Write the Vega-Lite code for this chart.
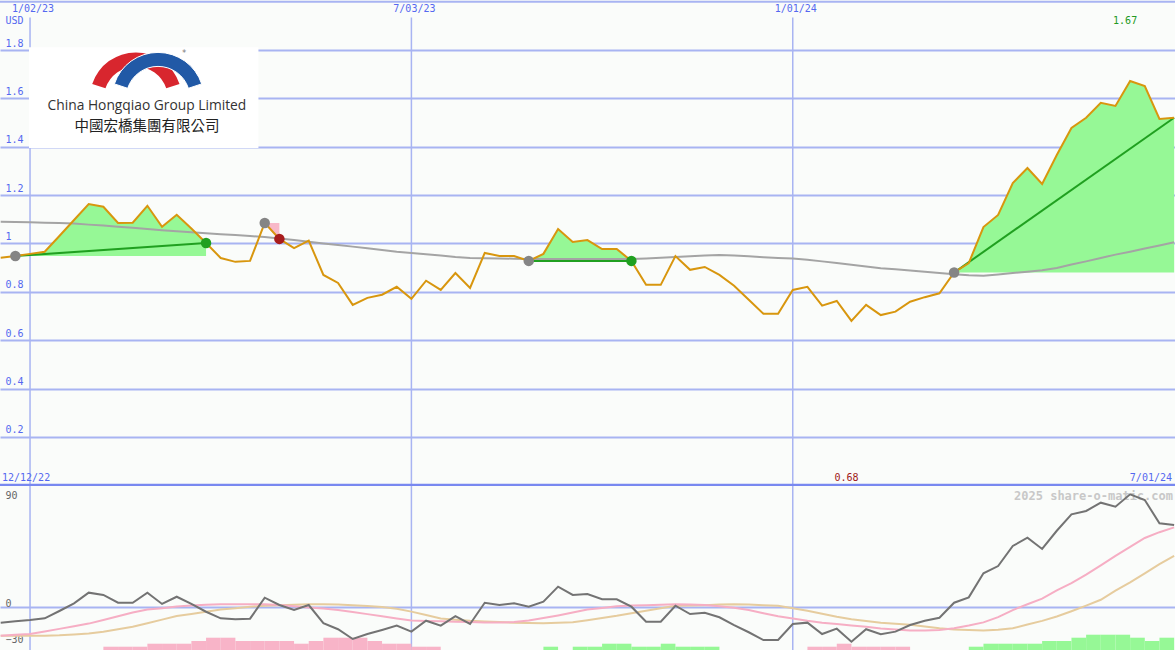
{
  "$schema": "https://vega.github.io/schema/vega-lite/v6.json",
  "background": "#fafcfa",
  "padding": 0,
  "spacing": 0,
  "bounds": "flush",
  "config": {"view": {"stroke": null}, "font": "DejaVu Sans Mono"},
  "datasets": {
    "gridDates": [{"date": "2023-01-02"}, {"date": "2023-07-03"}, {"date": "2024-01-01"}],
    "trades": [
      {"trade": 1, "side": "long", "event": "entry", "date": "2022-12-26", "price": 0.948},
      {"trade": 1, "side": "long", "event": "exit", "date": "2023-03-27", "price": 1.002},
      {"trade": 2, "side": "short", "event": "entry", "date": "2023-04-24", "price": 1.085},
      {"trade": 2, "side": "short", "event": "exit", "date": "2023-05-01", "price": 1.019},
      {"trade": 3, "side": "long", "event": "entry", "date": "2023-08-28", "price": 0.928},
      {"trade": 3, "side": "long", "event": "exit", "date": "2023-10-16", "price": 0.928},
      {"trade": 4, "side": "long", "event": "entry", "date": "2024-03-18", "price": 0.88},
      {"trade": 4, "side": "long", "event": "open", "date": "2024-07-01", "price": 1.52}
    ],
    "prices": [
      {"date": "2022-12-19", "price": 0.941, "ma": 1.090, "osc": -12.8, "sig1": -23.7, "sig2": -23.7, "hist": 0},
      {"date": "2022-12-26", "price": 0.948, "ma": 1.089, "osc": -11.7, "sig1": -22.9, "sig2": -23.7, "hist": 0, "trade": 1},
      {"date": "2023-01-02", "price": 0.957, "ma": 1.088, "osc": -10.6, "sig1": -22.3, "sig2": -23.7, "hist": 0, "trade": 1},
      {"date": "2023-01-09", "price": 0.966, "ma": 1.086, "osc": -9.2, "sig1": -20.1, "sig2": -23.7, "hist": 0, "trade": 1},
      {"date": "2023-01-16", "price": 1.031, "ma": 1.085, "osc": -3.1, "sig1": -18.0, "sig2": -23.3, "hist": 0, "trade": 1},
      {"date": "2023-01-23", "price": 1.097, "ma": 1.083, "osc": 3.3, "sig1": -15.8, "sig2": -22.6, "hist": 0, "trade": 1},
      {"date": "2023-01-30", "price": 1.163, "ma": 1.078, "osc": 12.2, "sig1": -13.6, "sig2": -21.8, "hist": 0, "trade": 1},
      {"date": "2023-02-06", "price": 1.152, "ma": 1.074, "osc": 10.3, "sig1": -10.6, "sig2": -20.3, "hist": -2.75, "trade": 1},
      {"date": "2023-02-13", "price": 1.085, "ma": 1.069, "osc": 3.8, "sig1": -7.4, "sig2": -18.3, "hist": -2.75, "trade": 1},
      {"date": "2023-02-20", "price": 1.086, "ma": 1.065, "osc": 3.8, "sig1": -4.4, "sig2": -16.3, "hist": -2.75, "trade": 1},
      {"date": "2023-02-27", "price": 1.156, "ma": 1.060, "osc": 12.2, "sig1": -1.9, "sig2": -13.3, "hist": -5.25, "trade": 1},
      {"date": "2023-03-06", "price": 1.069, "ma": 1.055, "osc": 2.8, "sig1": -0.7, "sig2": -10.3, "hist": -5.25, "trade": 1},
      {"date": "2023-03-13", "price": 1.119, "ma": 1.051, "osc": 8.8, "sig1": 0.6, "sig2": -7.3, "hist": -5.25, "trade": 1},
      {"date": "2023-03-20", "price": 1.062, "ma": 1.046, "osc": 2.8, "sig1": 1.5, "sig2": -5.5, "hist": -7.5, "trade": 1},
      {"date": "2023-03-27", "price": 1.002, "ma": 1.042, "osc": -3.7, "sig1": 2.2, "sig2": -3.7, "hist": -10.25, "trade": 1},
      {"date": "2023-04-03", "price": 0.940, "ma": 1.038, "osc": -9.2, "sig1": 2.5, "sig2": -1.9, "hist": -10.25},
      {"date": "2023-04-10", "price": 0.924, "ma": 1.035, "osc": -10.0, "sig1": 2.5, "sig2": -0.8, "hist": -7.5},
      {"date": "2023-04-17", "price": 0.928, "ma": 1.031, "osc": -9.5, "sig1": 2.5, "sig2": 0.5, "hist": -7.5},
      {"date": "2023-04-24", "price": 1.085, "ma": 1.027, "osc": 8.0, "sig1": 2.5, "sig2": 1.2, "hist": -7.5, "trade": 2},
      {"date": "2023-05-01", "price": 1.019, "ma": 1.021, "osc": 1.9, "sig1": 2.0, "sig2": 1.8, "hist": -7.5, "trade": 2},
      {"date": "2023-05-08", "price": 0.981, "ma": 1.014, "osc": -2.3, "sig1": 0.9, "sig2": 2.2, "hist": -5.25},
      {"date": "2023-05-15", "price": 1.012, "ma": 1.007, "osc": 1.9, "sig1": -0.1, "sig2": 2.6, "hist": -7.5},
      {"date": "2023-05-22", "price": 0.870, "ma": 1.000, "osc": -13.3, "sig1": -1.0, "sig2": 2.6, "hist": -10.25},
      {"date": "2023-05-29", "price": 0.837, "ma": 0.994, "osc": -18.3, "sig1": -2.3, "sig2": 2.3, "hist": -10.25},
      {"date": "2023-06-05", "price": 0.746, "ma": 0.987, "osc": -26.4, "sig1": -3.9, "sig2": 1.8, "hist": -10.25},
      {"date": "2023-06-12", "price": 0.775, "ma": 0.980, "osc": -22.3, "sig1": -5.7, "sig2": 1.0, "hist": -7.5},
      {"date": "2023-06-19", "price": 0.788, "ma": 0.973, "osc": -18.9, "sig1": -7.5, "sig2": 0.3, "hist": -5.25},
      {"date": "2023-06-26", "price": 0.821, "ma": 0.966, "osc": -15.3, "sig1": -9.3, "sig2": -1.3, "hist": -5.25},
      {"date": "2023-07-03", "price": 0.771, "ma": 0.961, "osc": -20.3, "sig1": -11.1, "sig2": -3.6, "hist": -2.75},
      {"date": "2023-07-10", "price": 0.846, "ma": 0.955, "osc": -11.2, "sig1": -11.4, "sig2": -6.4, "hist": -2.75},
      {"date": "2023-07-17", "price": 0.808, "ma": 0.950, "osc": -15.3, "sig1": -11.7, "sig2": -9.3, "hist": 0},
      {"date": "2023-07-24", "price": 0.878, "ma": 0.944, "osc": -7.3, "sig1": -12.0, "sig2": -10.3, "hist": 0},
      {"date": "2023-07-31", "price": 0.816, "ma": 0.940, "osc": -13.9, "sig1": -12.3, "sig2": -11.3, "hist": 0},
      {"date": "2023-08-07", "price": 0.961, "ma": 0.939, "osc": 3.8, "sig1": -12.7, "sig2": -11.8, "hist": 0},
      {"date": "2023-08-14", "price": 0.948, "ma": 0.938, "osc": 1.9, "sig1": -12.6, "sig2": -12.3, "hist": 0},
      {"date": "2023-08-21", "price": 0.948, "ma": 0.937, "osc": 3.3, "sig1": -12.3, "sig2": -12.8, "hist": 0},
      {"date": "2023-08-28", "price": 0.928, "ma": 0.936, "osc": 0.5, "sig1": -11.1, "sig2": -13.1, "hist": 0, "trade": 3},
      {"date": "2023-09-04", "price": 0.957, "ma": 0.936, "osc": 4.7, "sig1": -9.0, "sig2": -13.3, "hist": 2.75, "trade": 3},
      {"date": "2023-09-11", "price": 1.060, "ma": 0.936, "osc": 17.2, "sig1": -6.8, "sig2": -12.9, "hist": 0, "trade": 3},
      {"date": "2023-09-18", "price": 1.006, "ma": 0.936, "osc": 10.3, "sig1": -4.4, "sig2": -12.5, "hist": 2.75, "trade": 3},
      {"date": "2023-09-25", "price": 1.014, "ma": 0.936, "osc": 11.1, "sig1": -1.9, "sig2": -10.8, "hist": 2.75, "trade": 3},
      {"date": "2023-10-02", "price": 0.977, "ma": 0.936, "osc": 6.7, "sig1": -0.6, "sig2": -8.9, "hist": 5.25, "trade": 3},
      {"date": "2023-10-09", "price": 0.977, "ma": 0.936, "osc": 6.7, "sig1": 0.8, "sig2": -7.1, "hist": 5.25, "trade": 3},
      {"date": "2023-10-16", "price": 0.928, "ma": 0.936, "osc": 0.5, "sig1": 1.5, "sig2": -4.9, "hist": 2.75, "trade": 3},
      {"date": "2023-10-23", "price": 0.829, "ma": 0.938, "osc": -12.0, "sig1": 1.8, "sig2": -2.9, "hist": 2.75},
      {"date": "2023-10-30", "price": 0.829, "ma": 0.941, "osc": -12.0, "sig1": 2.1, "sig2": -0.8, "hist": 5.25},
      {"date": "2023-11-06", "price": 0.948, "ma": 0.944, "osc": 1.3, "sig1": 2.6, "sig2": 1.2, "hist": 2.75},
      {"date": "2023-11-13", "price": 0.891, "ma": 0.947, "osc": -5.6, "sig1": 2.4, "sig2": 1.5, "hist": 2.75},
      {"date": "2023-11-20", "price": 0.903, "ma": 0.950, "osc": -4.5, "sig1": 2.0, "sig2": 1.8, "hist": 2.75},
      {"date": "2023-11-27", "price": 0.870, "ma": 0.952, "osc": -8.3, "sig1": 0.8, "sig2": 2.3, "hist": 0},
      {"date": "2023-12-04", "price": 0.825, "ma": 0.950, "osc": -14.8, "sig1": -0.3, "sig2": 2.6, "hist": 0},
      {"date": "2023-12-11", "price": 0.767, "ma": 0.947, "osc": -20.8, "sig1": -2.3, "sig2": 2.4, "hist": 0},
      {"date": "2023-12-18", "price": 0.709, "ma": 0.943, "osc": -27.3, "sig1": -4.9, "sig2": 1.8, "hist": 0},
      {"date": "2023-12-25", "price": 0.709, "ma": 0.940, "osc": -27.3, "sig1": -7.5, "sig2": 1.2, "hist": 0},
      {"date": "2024-01-01", "price": 0.808, "ma": 0.938, "osc": -13.9, "sig1": -9.4, "sig2": -0.8, "hist": 0},
      {"date": "2024-01-08", "price": 0.821, "ma": 0.933, "osc": -12.8, "sig1": -11.3, "sig2": -2.9, "hist": -2.75},
      {"date": "2024-01-15", "price": 0.743, "ma": 0.926, "osc": -22.3, "sig1": -12.8, "sig2": -5.4, "hist": -2.75},
      {"date": "2024-01-22", "price": 0.762, "ma": 0.919, "osc": -17.8, "sig1": -13.9, "sig2": -7.8, "hist": -5.25},
      {"date": "2024-01-29", "price": 0.680, "ma": 0.912, "osc": -28.7, "sig1": -15.1, "sig2": -9.9, "hist": -2.75},
      {"date": "2024-02-05", "price": 0.746, "ma": 0.905, "osc": -18.3, "sig1": -16.3, "sig2": -11.4, "hist": -2.75},
      {"date": "2024-02-12", "price": 0.704, "ma": 0.898, "osc": -22.4, "sig1": -17.6, "sig2": -12.8, "hist": -2.75},
      {"date": "2024-02-19", "price": 0.718, "ma": 0.893, "osc": -20.3, "sig1": -18.5, "sig2": -13.8, "hist": -2.75},
      {"date": "2024-02-26", "price": 0.759, "ma": 0.888, "osc": -14.8, "sig1": -19.3, "sig2": -14.6, "hist": 0},
      {"date": "2024-03-04", "price": 0.778, "ma": 0.883, "osc": -11.2, "sig1": -19.3, "sig2": -16.0, "hist": 0},
      {"date": "2024-03-11", "price": 0.794, "ma": 0.878, "osc": -8.7, "sig1": -18.9, "sig2": -17.5, "hist": 0},
      {"date": "2024-03-18", "price": 0.880, "ma": 0.873, "osc": 3.8, "sig1": -17.5, "sig2": -18.6, "hist": 0, "trade": 4},
      {"date": "2024-03-25", "price": 0.919, "ma": 0.869, "osc": 8.3, "sig1": -15.2, "sig2": -19.0, "hist": 2.75, "trade": 4},
      {"date": "2024-04-01", "price": 1.068, "ma": 0.867, "osc": 28.3, "sig1": -12.6, "sig2": -19.4, "hist": 5.25, "trade": 4},
      {"date": "2024-04-08", "price": 1.118, "ma": 0.872, "osc": 34.4, "sig1": -8.2, "sig2": -18.7, "hist": 5.25, "trade": 4},
      {"date": "2024-04-15", "price": 1.250, "ma": 0.878, "osc": 51.1, "sig1": -2.3, "sig2": -17.5, "hist": 5.25, "trade": 4},
      {"date": "2024-04-22", "price": 1.312, "ma": 0.883, "osc": 58.0, "sig1": 2.5, "sig2": -14.3, "hist": 5.25, "trade": 4},
      {"date": "2024-04-29", "price": 1.246, "ma": 0.889, "osc": 48.6, "sig1": 7.2, "sig2": -11.3, "hist": 7.5, "trade": 4},
      {"date": "2024-05-06", "price": 1.366, "ma": 0.899, "osc": 63.8, "sig1": 14.1, "sig2": -7.7, "hist": 7.5, "trade": 4},
      {"date": "2024-05-13", "price": 1.478, "ma": 0.913, "osc": 77.5, "sig1": 20.1, "sig2": -3.3, "hist": 10.25, "trade": 4},
      {"date": "2024-05-20", "price": 1.520, "ma": 0.926, "osc": 80.3, "sig1": 27.2, "sig2": 1.4, "hist": 12.75, "trade": 4},
      {"date": "2024-05-27", "price": 1.582, "ma": 0.940, "osc": 87.2, "sig1": 35.0, "sig2": 6.3, "hist": 12.75, "trade": 4},
      {"date": "2024-06-03", "price": 1.569, "ma": 0.954, "osc": 83.8, "sig1": 42.9, "sig2": 13.8, "hist": 12.75, "trade": 4},
      {"date": "2024-06-10", "price": 1.672, "ma": 0.966, "osc": 94.2, "sig1": 50.4, "sig2": 20.8, "hist": 10.25, "trade": 4},
      {"date": "2024-06-17", "price": 1.651, "ma": 0.979, "osc": 89.4, "sig1": 57.8, "sig2": 28.3, "hist": 7.5, "trade": 4},
      {"date": "2024-06-24", "price": 1.515, "ma": 0.992, "osc": 70.0, "sig1": 62.6, "sig2": 36.0, "hist": 10.25, "trade": 4},
      {"date": "2024-07-01", "price": 1.520, "ma": 1.005, "osc": 68.5, "sig1": 66.6, "sig2": 42.9, "hist": 0, "trade": 4}
    ]
  },
  "vconcat": [
    {
      "width": 1175,
      "height": 486,
      "layer": [
        {
          "data": {"name": "gridDates"},
          "mark": {"type": "rule", "color": "#a8b4f2", "strokeWidth": 1.5, "clip": true},
          "encoding": {
            "x": {"field": "date", "type": "temporal", "axis": null,
              "scale": {"type": "utc", "domain": [{"year": 2022, "month": 12, "date": 18, "hours": 16, "utc": true}, {"year": 2024, "month": 7, "date": 1, "hours": 10, "utc": true}]}},
            "y": {"datum": -0.003, "type": "quantitative", "scale": {"domain": [-0.003, 2.007], "nice": false, "zero": false}},
            "y2": {"datum": 1.935}
          }
        },
        {
          "data": {"values": [{"level": 2.0}]},
          "mark": {"type": "rule", "color": "#a8b4f2", "strokeWidth": 2, "clip": true},
          "encoding": {"y": {"field": "level", "type": "quantitative"}}
        },
        {
          "data": {"values": [{"level": 0}]},
          "mark": {"type": "rule", "color": "#7888f0", "strokeWidth": 3, "clip": true},
          "encoding": {"y": {"field": "level", "type": "quantitative"}}
        },
        {
          "data": {"name": "gridDates"},
          "mark": {"type": "text", "color": "#5468f0", "fontSize": 10, "baseline": "middle", "dx": 3},
          "encoding": {
            "x": {"field": "date", "type": "temporal"},
            "y": {"datum": 1.97, "type": "quantitative"},
            "text": {"field": "date", "timeUnit": "utcyearmonthdate", "type": "temporal", "format": "%-m/%d/%y"}
          }
        },
        {
          "data": {"values": [{"item": "logo"}]},
          "mark": {"type": "rect", "color": "#ffffff"},
          "encoding": {
            "x": {"datum": {"year": 2023, "month": 1, "date": 1, "hours": 12, "utc": true}, "type": "temporal"},
            "x2": {"datum": {"year": 2023, "month": 4, "date": 21, "utc": true}},
            "y": {"datum": 1.395, "type": "quantitative"},
            "y2": {"datum": 1.812}
          }
        },
        {
          "data": {"values": [{"item": "logo"}]},
          "mark": {"type": "arc", "theta": -1.25, "theta2": 1.25, "radius": 46, "radius2": 32, "color": "#d8262e"},
          "encoding": {
            "x": {"datum": {"year": 2023, "month": 2, "date": 21, "hours": 12, "utc": true}, "type": "temporal"},
            "y": {"datum": 1.6, "type": "quantitative"}
          }
        },
        {
          "data": {"values": [{"item": "logo"}]},
          "mark": {"type": "arc", "theta": -1.25, "theta2": 1.25, "radius": 46, "radius2": 32, "color": "#2159a6", "stroke": "#ffffff", "strokeWidth": 1},
          "encoding": {
            "x": {"datum": {"year": 2023, "month": 3, "date": 4, "hours": 2, "utc": true}, "type": "temporal"},
            "y": {"datum": 1.6, "type": "quantitative"}
          }
        },
        {
          "data": {"values": [{"item": "logo"}]},
          "mark": {"type": "text", "color": "#777777", "fontSize": 8, "baseline": "middle"},
          "encoding": {
            "x": {"datum": {"year": 2023, "month": 3, "date": 16, "hours": 12, "utc": true}, "type": "temporal"},
            "y": {"datum": 1.785, "type": "quantitative"},
            "text": {"value": "*"}
          }
        },
        {
          "data": {"values": [{"item": "logo"}]},
          "mark": {"type": "text", "color": "#333333", "font": "Open Sans", "fontSize": 13.8, "baseline": "middle", "align": "center"},
          "encoding": {
            "x": {"datum": {"year": 2023, "month": 2, "date": 26, "hours": 19, "utc": true}, "type": "temporal"},
            "y": {"datum": 1.57, "type": "quantitative"},
            "text": {"value": "China Hongqiao Group Limited"}
          }
        },
        {
          "data": {"values": [{"item": "logo"}]},
          "mark": {"type": "text", "color": "#222222", "font": "Noto Sans CJK TC", "fontSize": 14.5, "baseline": "middle", "align": "center"},
          "encoding": {
            "x": {"datum": {"year": 2023, "month": 2, "date": 26, "hours": 19, "utc": true}, "type": "temporal"},
            "y": {"datum": 1.48, "type": "quantitative"},
            "text": {"value": "中國宏橋集團有限公司"}
          }
        },
        {
          "data": {"name": "prices"},
          "transform": [
            {"filter": "isValid(datum.trade)"},
            {"window": [{"op": "first_value", "field": "price", "as": "base"}], "groupby": ["trade"], "sort": [{"field": "date"}], "frame": [null, null]},
            {"lookup": "trade", "from": {"data": {"values": [{"trade": 1, "side": "long"}, {"trade": 2, "side": "short"}, {"trade": 3, "side": "long"}, {"trade": 4, "side": "long"}]}, "key": "trade", "fields": ["side"]}}
          ],
          "mark": {"type": "area", "opacity": 1, "clip": true},
          "encoding": {
            "x": {"field": "date", "type": "temporal"},
            "y": {"field": "price", "type": "quantitative"},
            "y2": {"field": "base"},
            "detail": {"field": "trade", "type": "nominal"},
            "color": {"condition": {"test": "datum.side == 'short'", "value": "#f8b8c8"}, "value": "#96f896"}
          }
        },
        {
          "data": {"name": "prices"},
          "mark": {"type": "line", "color": "#a4a4a4", "strokeWidth": 2, "clip": true},
          "encoding": {
            "x": {"field": "date", "type": "temporal"},
            "y": {"field": "ma", "type": "quantitative"}
          }
        },
        {
          "data": {"name": "trades"},
          "mark": {"type": "line", "strokeWidth": 2, "clip": true},
          "encoding": {
            "x": {"field": "date", "type": "temporal"},
            "y": {"field": "price", "type": "quantitative"},
            "detail": {"field": "trade", "type": "nominal"},
            "color": {"condition": {"test": "datum.side == 'short'", "value": "#f8b8c8"}, "value": "#20a020"}
          }
        },
        {
          "data": {"name": "prices"},
          "mark": {"type": "line", "color": "#d8960e", "strokeWidth": 2, "clip": true},
          "encoding": {
            "x": {"field": "date", "type": "temporal"},
            "y": {
              "field": "price", "type": "quantitative",
              "axis": {
                "values": [0.2, 0.4, 0.6, 0.8, 1, 1.2, 1.4, 1.6, 1.8],
                "format": ".1~f",
                "grid": true, "gridColor": "#a8b4f2", "gridWidth": 2,
                "domain": false, "ticks": false, "tickSize": 0,
                "labelAlign": "left", "labelBaseline": "bottom", "labelPadding": -5, "labelOffset": -2,
                "labelColor": "#5468f0", "labelFont": "DejaVu Sans Mono", "labelFontSize": 10, "labelOverlap": false,
                "title": "USD", "titleAngle": 0, "titleAlign": "left", "titleBaseline": "bottom",
                "titleX": 5, "titleY": 25, "titleColor": "#5468f0", "titleFont": "DejaVu Sans Mono",
                "titleFontSize": 10, "titleFontWeight": "normal"
              }
            }
          }
        },
        {
          "data": {"name": "trades"},
          "transform": [{"filter": "datum.event != 'open'"}],
          "mark": {"type": "circle", "size": 110, "opacity": 1},
          "encoding": {
            "x": {"field": "date", "type": "temporal"},
            "y": {"field": "price", "type": "quantitative"},
            "color": {"condition": [{"test": "datum.event == 'entry'", "value": "#858585"}, {"test": "datum.side == 'short'", "value": "#a81c1c"}], "value": "#20a020"}
          }
        },
        {
          "data": {"name": "prices"},
          "transform": [{"joinaggregate": [{"op": "max", "field": "price", "as": "top"}]}, {"filter": "datum.price == datum.top"}],
          "mark": {"type": "text", "color": "#229922", "fontSize": 10, "baseline": "middle", "dx": -5},
          "encoding": {
            "x": {"field": "date", "type": "temporal"},
            "y": {"datum": 1.92, "type": "quantitative"},
            "text": {"field": "price", "type": "quantitative", "format": ".2f"}
          }
        },
        {
          "data": {"name": "prices"},
          "transform": [{"joinaggregate": [{"op": "min", "field": "price", "as": "low"}]}, {"filter": "datum.price == datum.low"}],
          "mark": {"type": "text", "color": "#a01818", "fontSize": 10, "baseline": "middle", "dx": -5},
          "encoding": {
            "x": {"field": "date", "type": "temporal"},
            "y": {"datum": 0.032, "type": "quantitative"},
            "text": {"field": "price", "type": "quantitative", "format": ".2f"}
          }
        },
        {
          "data": {"values": [{"item": "range"}]},
          "mark": {"type": "text", "color": "#5468f0", "fontSize": 10, "baseline": "middle", "align": "left", "dx": 2},
          "encoding": {
            "x": {"datum": {"year": 2022, "month": 12, "date": 18, "hours": 16, "utc": true}, "type": "temporal"},
            "y": {"datum": 0.032, "type": "quantitative"},
            "text": {"value": "12/12/22"}
          }
        },
        {
          "data": {"values": [{"item": "range"}]},
          "mark": {"type": "text", "color": "#5468f0", "fontSize": 10, "baseline": "middle", "align": "right", "dx": -3},
          "encoding": {
            "x": {"datum": {"year": 2024, "month": 7, "date": 1, "hours": 10, "utc": true}, "type": "temporal"},
            "y": {"datum": 0.032, "type": "quantitative"},
            "text": {"value": "7/01/24"}
          }
        }
      ]
    },
    {
      "width": 1175,
      "height": 164,
      "resolve": {"scale": {"y": "independent"}},
      "layer": [
        {
          "data": {"name": "gridDates"},
          "mark": {"type": "rule", "color": "#a8b4f2", "strokeWidth": 1.5, "clip": true},
          "encoding": {
            "x": {"field": "date", "type": "temporal", "axis": null,
              "scale": {"type": "utc", "domain": [{"year": 2022, "month": 12, "date": 18, "hours": 16, "utc": true}, {"year": 2024, "month": 7, "date": 1, "hours": 10, "utc": true}]}}
          }
        },
        {
          "data": {"name": "prices"},
          "transform": [
            {"window": [{"op": "lead", "field": "date", "as": "next"}], "sort": [{"field": "date"}]},
            {"filter": "datum.hist != 0"},
            {"calculate": "abs(datum.hist)", "as": "mag"}
          ],
          "mark": {"type": "rect", "clip": true},
          "encoding": {
            "x": {"field": "date", "type": "temporal"},
            "x2": {"field": "next"},
            "y": {"field": "mag", "type": "quantitative", "scale": {"domain": [0, 136.7], "nice": false}, "axis": null},
            "y2": {"datum": 0},
            "color": {"condition": {"test": "datum.hist < 0", "value": "#f8b4c8"}, "value": "#96f896"}
          }
        },
        {
          "layer": [
            {
              "data": {"values": [{"item": "credit"}]},
              "mark": {"type": "text", "color": "#c8c8c8", "fontSize": 12, "fontWeight": "bold", "align": "right", "baseline": "middle", "dx": -2},
              "encoding": {
                "x": {"datum": {"year": 2024, "month": 7, "date": 1, "hours": 10, "utc": true}, "type": "temporal"},
                "y": {"datum": 92.7, "type": "quantitative", "scale": {"domain": [-35.6, 101.1], "nice": false, "zero": false}},
                "text": {"value": "2025 share-o-matic.com"}
              }
            },
            {
              "data": {"name": "prices"},
              "mark": {"type": "line", "color": "#e6cc9e", "strokeWidth": 2, "clip": true},
              "encoding": {
                "x": {"field": "date", "type": "temporal"},
                "y": {
                  "field": "sig2", "type": "quantitative",
                  "axis": {
                    "orient": "left", "values": [90, 0, -30], "grid": true,
                    "gridColor": "#a8b4f2", "gridWidth": 2,
                    "gridOpacity": {"condition": {"test": "datum.value === 0", "value": 1}, "value": 0},
                    "domain": false, "ticks": false, "tickSize": 0,
                    "labelAlign": "left", "labelBaseline": "middle", "labelPadding": -5, "labelOffset": -4,
                    "labelColor": "#666666", "labelFont": "DejaVu Sans Mono", "labelFontSize": 10, "labelOverlap": false,
                    "title": null
                  }
                }
              }
            },
            {
              "data": {"name": "prices"},
              "mark": {"type": "line", "color": "#f6aec4", "strokeWidth": 2, "clip": true},
              "encoding": {
                "x": {"field": "date", "type": "temporal"},
                "y": {"field": "sig1", "type": "quantitative", "axis": {"title": null}}
              }
            },
            {
              "data": {"name": "prices"},
              "mark": {"type": "line", "color": "#737373", "strokeWidth": 2, "clip": true},
              "encoding": {
                "x": {"field": "date", "type": "temporal"},
                "y": {"field": "osc", "type": "quantitative", "axis": {"title": null}}
              }
            }
          ]
        }
      ]
    }
  ]
}
